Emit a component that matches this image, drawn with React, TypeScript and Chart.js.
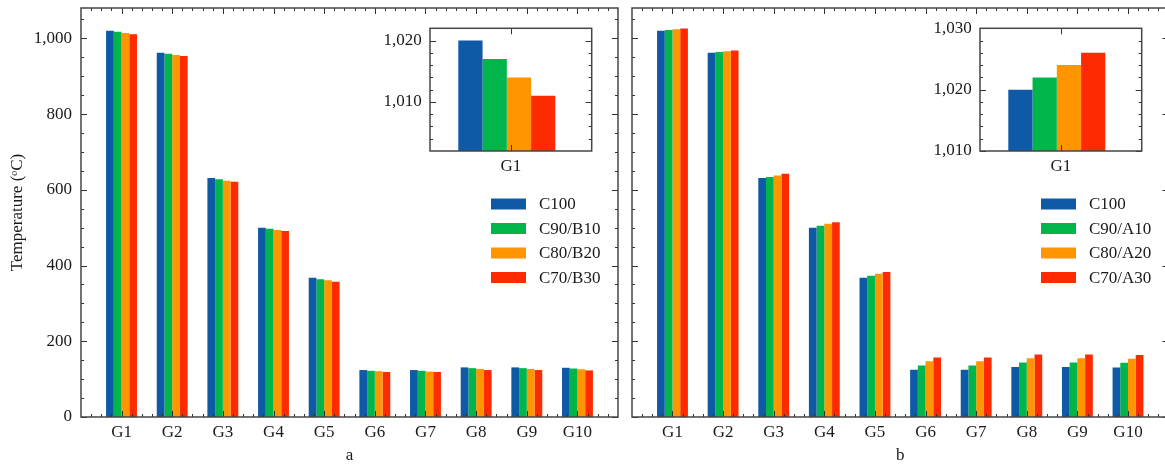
import React, { useEffect, useRef } from 'react';
import { Chart, registerables } from 'chart.js';

Chart.register(...registerables);

// ---------- data ----------
const groups = ['G1', 'G2', 'G3', 'G4', 'G5', 'G6', 'G7', 'G8', 'G9', 'G10'];
const seriesA = ['C100', 'C90/B10', 'C80/B20', 'C70/B30'];
const seriesB = ['C100', 'C90/A10', 'C80/A20', 'C70/A30'];
const colors = ['#0E5AA6', '#00B64A', '#FF9500', '#FF2B00'];

const a_C100 = [1020, 962, 631, 500, 368, 124, 124, 131, 131, 130];
const a_C90B10 = [1017, 959, 628, 497, 364, 122, 122, 129, 129, 128];
const a_C80B20 = [1014, 956, 624, 494, 361, 121, 120, 127, 127, 126];
const a_C70B30 = [1011, 953, 621, 491, 357, 119, 119, 124, 124, 123];

const b_C100 = [1020, 962, 631, 500, 368, 125, 125, 132, 132, 131];
const b_C90A10 = [1022, 964, 634, 505, 373, 136, 136, 144, 144, 143];
const b_C80A20 = [1024, 966, 638, 510, 378, 147, 147, 155, 155, 154];
const b_C70A30 = [1026, 968, 642, 514, 383, 157, 157, 165, 165, 164];

const yTicksMain = [0, 200, 400, 600, 800, 1000];
const yTicksInsetA = [1010, 1020];
const yTicksInsetB = [1010, 1020, 1030];

const FONT = 'Liberation Serif';
const TXT = '#1a1a1a';

// ---------- tick helpers (axis decoration only) ----------
function range(from: number, to: number, step: number, skipEvery: number) {
  const out: number[] = [];
  const n = Math.round((to - from) / step);
  for (let k = 0; k <= n; k++) {
    const v = +(from + k * step).toFixed(6);
    if (skipEvery && Math.abs(v / skipEvery - Math.round(v / skipEvery)) < 1e-6) continue;
    out.push(v);
  }
  return out;
}

const framePlugin = {
  id: 'frame',
  afterDatasetsDraw(chart: any, _args: any, o: any) {
    const { ctx, chartArea: a, scales } = chart;
    const xs = scales.x;
    const ys = scales.y;
    ctx.save();
    ctx.strokeStyle = '#333';
    ctx.lineWidth = 1;
    const line = (x1: number, y1: number, x2: number, y2: number) => {
      ctx.beginPath();
      ctx.moveTo(x1, y1);
      ctx.lineTo(x2, y2);
      ctx.stroke();
    };
    const xt = (vals: number[], len: number) => {
      for (const v of vals) {
        const px = Math.round(xs.getPixelForValue(v)) + 0.5;
        line(px, a.bottom, px, a.bottom - len);
        line(px, a.top, px, a.top + len);
      }
    };
    const yt = (vals: number[], len: number) => {
      for (const v of vals) {
        const py = Math.round(ys.getPixelForValue(v)) + 0.5;
        line(a.left, py, a.left + len, py);
        line(a.right, py, a.right - len, py);
      }
    };
    xt(o.xMajor, o.majorLen);
    xt(o.xMinor, o.minorLen);
    yt(o.yMajor, o.majorLen);
    yt(o.yMinor, o.minorLen);
    ctx.strokeStyle = '#454545';
    ctx.lineWidth = 1.5;
    ctx.strokeRect(a.left, a.top, a.right - a.left, a.bottom - a.top);
    ctx.restore();
  },
};

const legendPlugin = {
  id: 'boxLegend',
  afterDatasetsDraw(chart: any, _args: any, o: any) {
    const ctx = chart.ctx;
    ctx.save();
    chart.data.datasets.forEach((ds: any, i: number) => {
      const cy = o.y + i * o.spacing;
      ctx.fillStyle = ds.backgroundColor;
      ctx.fillRect(o.x, cy - o.boxH / 2, o.boxW, o.boxH);
      ctx.fillStyle = TXT;
      ctx.font = `17px "${FONT}"`;
      ctx.textBaseline = 'middle';
      ctx.textAlign = 'left';
      ctx.fillText(ds.label, o.textX, cy + 1);
    });
    ctx.restore();
  },
};

function makeDatasets(names: string[], values: number[][], onlyFirst: boolean) {
  return names.map((n, i) => ({
    label: n,
    data: (onlyFirst ? values[i].slice(0, 1) : values[i]).map((v, j) => ({ x: j, y: v })),
    backgroundColor: colors[i],
    borderWidth: 0,
  }));
}

const noPadX = (h: number) => (s: any) => { s.height = h; s.paddingLeft = 0; s.paddingRight = 0; };
const noPadY = (w: number) => (s: any) => { s.width = w; s.paddingTop = 0; s.paddingBottom = 0; };

function mainConfig(names: string[], values: number[][], showY: boolean, title: string, padRight: number, yAxisW: number, legend: any) {
  return {
    type: 'bar' as const,
    data: { datasets: makeDatasets(names, values, false) },
    plugins: [framePlugin, legendPlugin],
    options: {
      animation: false,
      responsive: false,
      maintainAspectRatio: false,
      layout: { padding: { top: 8, right: padRight, left: 0, bottom: 0 } },
      datasets: { bar: { categoryPercentage: 0.61, barPercentage: 1 } },
      plugins: {
        legend: { display: false },
        tooltip: { enabled: false },
        frame: {
          xMajor: groups.map((_, i) => i),
          xMinor: range(-0.6, 9.6, 0.2, 1),
          yMajor: yTicksMain,
          yMinor: range(50, 1050, 50, 200),
          majorLen: 6,
          minorLen: 3,
        },
        boxLegend: legend,
      },
      scales: {
        x: {
          type: 'linear',
          offset: false,
          min: -0.8,
          max: 9.8,
          afterBuildTicks: (s: any) => { s.ticks = groups.map((_, i) => ({ value: i })); },
          afterFit: noPadX(47),
          grid: { display: false, drawTicks: false, offset: false },
          border: { display: false },
          ticks: {
            autoSkip: false,
            maxRotation: 0,
            padding: 5,
            color: TXT,
            font: { family: FONT, size: 17 },
            callback: (v: number) => groups[Math.round(v)],
          },
          title: { display: true, text: title, color: TXT, padding: 0, font: { family: FONT, size: 17, lineHeight: 1 } },
        },
        y: {
          min: 0,
          max: 1080,
          afterBuildTicks: (s: any) => { s.ticks = yTicksMain.map((v) => ({ value: v })); },
          afterFit: noPadY(yAxisW),
          grid: { display: false, drawTicks: false },
          border: { display: false },
          ticks: {
            display: showY,
            padding: 9,
            color: TXT,
            font: { family: FONT, size: 17 },
            callback: (v: number) => v.toLocaleString('en-US'),
          },
          title: {
            display: showY,
            text: 'Temperature (ᵒC)',
            color: TXT,
            padding: { top: 9.5, bottom: 0 },
            font: { family: FONT, size: 17, lineHeight: 1 },
          },
        },
      },
    },
  };
}

function insetConfig(names: string[], values: number[][], yMin: number, yMax: number, yTicks: number[]) {
  return {
    type: 'bar' as const,
    data: { datasets: makeDatasets(names, values, true) },
    plugins: [framePlugin],
    options: {
      animation: false,
      responsive: false,
      maintainAspectRatio: false,
      layout: { padding: { top: 8.3, right: 8.3, left: 0, bottom: 0 } },
      datasets: { bar: { categoryPercentage: 0.6, barPercentage: 1 } },
      plugins: {
        legend: { display: false },
        tooltip: { enabled: false },
        frame: {
          xMajor: [0.025],
          xMinor: [],
          yMajor: yTicks,
          yMinor: range(yMin, yMax, 2, 10).filter((v) => v > yMin && v < yMax),
          majorLen: 6,
          minorLen: 3,
        },
      },
      scales: {
        x: {
          type: 'linear',
          offset: false,
          min: -0.475,
          max: 0.525,
          afterBuildTicks: (s: any) => { s.ticks = [{ value: 0.025 }]; },
          afterFit: noPadX(29),
          grid: { display: false, drawTicks: false, offset: false },
          border: { display: false },
          ticks: {
            autoSkip: false,
            maxRotation: 0,
            padding: 5,
            color: TXT,
            font: { family: FONT, size: 17 },
            callback: () => groups[0],
          },
        },
        y: {
          min: yMin,
          max: yMax,
          afterBuildTicks: (s: any) => { s.ticks = yTicks.map((v) => ({ value: v })); },
          afterFit: noPadY(50),
          grid: { display: false, drawTicks: false },
          border: { display: false },
          ticks: {
            padding: 8.3,
            color: TXT,
            font: { family: FONT, size: 17 },
            callback: (v: number) => v.toLocaleString('en-US'),
          },
        },
      },
    },
  };
}

export default function App() {
  const c1 = useRef<HTMLCanvasElement>(null);
  const c2 = useRef<HTMLCanvasElement>(null);
  const c3 = useRef<HTMLCanvasElement>(null);
  const c4 = useRef<HTMLCanvasElement>(null);

  useEffect(() => {
    const valsA = [a_C100, a_C90B10, a_C80B20, a_C70B30];
    const valsB = [b_C100, b_C90A10, b_C80A20, b_C70A30];
    const charts: Chart[] = [];
    charts.push(new Chart(c1.current as HTMLCanvasElement, mainConfig(seriesA, valsA, true, 'a', 7, 81,
      { x: 491, textX: 539, y: 204, spacing: 24.5, boxW: 35, boxH: 11 }) as any));
    charts.push(new Chart(c2.current as HTMLCanvasElement, mainConfig(seriesB, valsB, false, 'b', 6.5, 7,
      { x: 416, textX: 464, y: 204, spacing: 24.5, boxW: 35, boxH: 11 }) as any));
    charts.push(new Chart(c3.current as HTMLCanvasElement, insetConfig(seriesA, valsA, 1002, 1022, yTicksInsetA) as any));
    charts.push(new Chart(c4.current as HTMLCanvasElement, insetConfig(seriesB, valsB, 1010, 1030, yTicksInsetB) as any));
    return () => charts.forEach((c) => c.destroy());
  }, []);

  return (
    <div style={{ position: 'absolute', left: 0, top: 0, width: 1165, height: 464, overflow: 'hidden', background: '#fff' }}>
      <canvas ref={c1} width={625} height={464} style={{ position: 'absolute', left: 0, top: 0 }} />
      <canvas ref={c2} width={550} height={464} style={{ position: 'absolute', left: 625, top: 0 }} />
      <canvas ref={c3} width={220} height={160} style={{ position: 'absolute', left: 380, top: 20 }} />
      <canvas ref={c4} width={220} height={160} style={{ position: 'absolute', left: 930, top: 20 }} />
    </div>
  );
}
